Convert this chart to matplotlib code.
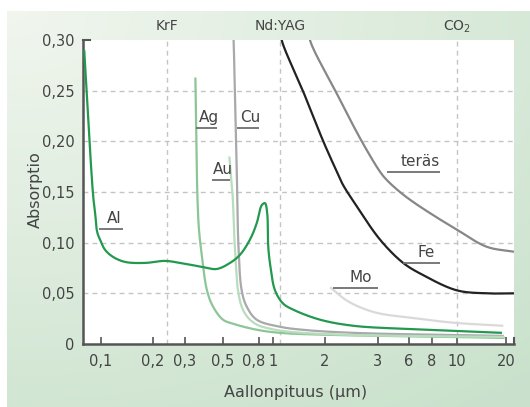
import numpy as np
import matplotlib
matplotlib.use('Agg')
import matplotlib.pyplot as plt
import matplotlib.transforms as mtransforms
from matplotlib import font_manager

# --- data (wavelength in um, absorption) ---
al_wl = [0.080, 0.090, 0.0925, 0.0949, 0.0987, 0.1055, 0.1173, 0.1377, 0.1798, 0.2329, 0.2817,
         0.3818, 0.4588, 0.548, 0.624, 0.711, 0.776, 0.836, 0.880, 0.912, 0.927, 0.961, 1.027,
         1.143, 1.305, 1.871, 2.48, 5.23, 9.65, 18.9]
al_abs = [0.290, 0.147, 0.129, 0.111, 0.103, 0.093, 0.086, 0.081, 0.080, 0.082, 0.080,
          0.076, 0.074, 0.080, 0.088, 0.103, 0.119, 0.137, 0.139, 0.129, 0.096, 0.076, 0.053,
          0.040, 0.034, 0.024, 0.018, 0.015, 0.013, 0.011]

ag_wl = [0.345, 0.350, 0.355, 0.362, 0.377, 0.403, 0.437, 0.500, 0.570, 0.780, 1.098, 2.08, 9.4, 19.6]
ag_abs = [0.263, 0.192, 0.142, 0.113, 0.086, 0.053, 0.037, 0.024, 0.020, 0.014, 0.011, 0.009, 0.007, 0.006]

au_wl = [0.543, 0.567, 0.577, 0.592, 0.608, 0.641, 0.693, 0.780, 0.960, 1.254, 2.4, 19.6]
au_abs = [0.185, 0.147, 0.113, 0.078, 0.053, 0.036, 0.026, 0.019, 0.015, 0.012, 0.009, 0.007]

cu_wl = [0.572, 0.575, 0.589, 0.600, 0.612, 0.638, 0.681, 0.776, 1.098, 1.49, 2.48, 19.4]
cu_abs = [0.310, 0.298, 0.221, 0.162, 0.096, 0.053, 0.037, 0.024, 0.017, 0.014, 0.011, 0.008]

fe_wl = [1.11, 1.123, 1.497, 1.955, 2.19, 2.296, 2.55, 3.14, 5.27, 7.16, 9.97, 15.2, 22.4]
fe_abs = [0.310, 0.300, 0.249, 0.200, 0.170, 0.157, 0.136, 0.103, 0.080, 0.068, 0.053, 0.050, 0.050]

steel_wl = [1.62, 1.637, 2.19, 2.65, 3.14, 3.64, 4.90, 6.34, 8.22, 9.97, 15.2, 22.4]
steel_abs = [0.310, 0.300, 0.247, 0.200, 0.170, 0.162, 0.150, 0.140, 0.126, 0.113, 0.096, 0.091]

mo_wl = [2.08, 2.36, 2.68, 3.14, 6.1, 9.7, 19.25]
mo_abs = [0.056, 0.043, 0.035, 0.030, 0.026, 0.021, 0.018]

laser_wl = [0.24, 1.1, 10.0]
laser_names = ['KrF', 'Nd:YAG', 'CO$_2$']

xticks = [0.1, 0.2, 0.3, 0.5, 0.8, 1, 2, 3, 6, 8, 10, 20]
xticklabels = ['0,1', '0,2', '0,3', '0,5', '0,8', '1', '2', '3', '6', '8', '10', '20']
yticks = [0, 0.05, 0.10, 0.15, 0.20, 0.25, 0.30]
yticklabels = ['0', '0,05', '0,10', '0,15', '0,20', '0,25', '0,30']

# --- irregular wavelength axis (hand drawn in the original) ---
anchor_wl = [0.07] + xticks + [25]
anchor_pos = [74.2, 101, 153, 185, 223, 259, 273, 325, 378, 409, 432, 457, 506, 521.8]
log_anchor = np.log10(anchor_wl)

def fwd(x):
    x = np.clip(np.asarray(x, dtype=float), 1e-6, None)
    return np.interp(np.log10(x), log_anchor, anchor_pos)

def inv(p):
    return 10 ** np.interp(np.asarray(p, dtype=float), anchor_pos, log_anchor)

def smooth(wl, a, n=24):
    # centripetal catmull-rom through the read points, done in axis space
    p = np.column_stack([fwd(wl), np.asarray(a, dtype=float) * 1013])
    pts = np.vstack([2 * p[0] - p[1], p, 2 * p[-1] - p[-2]])
    out = []
    for i in range(1, len(pts) - 2):
        P0, P1, P2, P3 = pts[i - 1:i + 3]
        t0 = 0.0
        t1 = t0 + np.linalg.norm(P1 - P0) ** 0.5 + 1e-9
        t2 = t1 + np.linalg.norm(P2 - P1) ** 0.5 + 1e-9
        t3 = t2 + np.linalg.norm(P3 - P2) ** 0.5 + 1e-9
        t = np.linspace(t1, t2, n, endpoint=False)[:, None]
        A1 = (t1 - t) / (t1 - t0) * P0 + (t - t0) / (t1 - t0) * P1
        A2 = (t2 - t) / (t2 - t1) * P1 + (t - t1) / (t2 - t1) * P2
        A3 = (t3 - t) / (t3 - t2) * P2 + (t - t2) / (t3 - t2) * P3
        B1 = (t2 - t) / (t2 - t0) * A1 + (t - t0) / (t2 - t0) * A2
        B2 = (t3 - t) / (t3 - t1) * A2 + (t - t1) / (t3 - t1) * A3
        out.append((t2 - t) / (t2 - t1) * B1 + (t - t1) / (t2 - t1) * B2)
    out.append(p[-1:])
    q = np.vstack(out)
    return inv(q[:, 0]), q[:, 1] / 1013

names = [f.name for f in font_manager.fontManager.ttflist]
fam = 'Liberation Sans Narrow' if 'Liberation Sans Narrow' in names else 'DejaVu Sans'
plt.rcParams['font.family'] = [fam, 'DejaVu Sans']
txt = '#444444'

W, H = 530, 407
fig = plt.figure(figsize=(W / 100, H / 100), dpi=100)

# green gradient panel
bg = fig.add_axes([7 / W, 0, 523 / W, 396 / H])
u, v = np.meshgrid(np.linspace(0, 1, 200), np.linspace(0, 1, 200))
t = np.clip(np.sqrt((u / 1.5) ** 2 + (v / 1.25) ** 2), 0, 1)
c0 = np.array([0.945, 0.965, 0.935])
c1 = np.array([0.79, 0.885, 0.80])
img = c0[None, None, :] * (1 - t[..., None]) + c1[None, None, :] * t[..., None]
bg.imshow(img, aspect='auto', extent=[0, 1, 0, 1], origin='upper')
bg.axis('off')

ax = fig.add_axes([83 / W, 1 - 344 / H, (514 - 83) / W, (344 - 40) / H])
ax.set_facecolor('white')
ax.set_xscale('function', functions=(fwd, inv))
ax.set_xlim(0.0787, 22.4)
ax.set_ylim(0, 0.30)

for y in yticks[1:-1]:
    ax.axhline(y, color='#c4c4c4', lw=1, ls=(0, (3.5, 3)), zorder=1)
for wl, name in zip(laser_wl, laser_names):
    ax.axvline(wl, color='#c4c4c4', lw=1, ls=(0, (3.5, 3)), zorder=1)
    ax.text(wl, 1.045, name, transform=ax.get_xaxis_transform(), ha='center', va='center',
            fontsize=10, color=txt)

lw = 1.6
curves = [(mo_wl, mo_abs, '#d9d9d9', 3), (steel_wl, steel_abs, '#878787', 3),
          (fe_wl, fe_abs, '#222222', 3), (cu_wl, cu_abs, '#a8a8ad', 3),
          (ag_wl, ag_abs, '#8cc697', 4), (au_wl, au_abs, '#b8ddbc', 4),
          (al_wl, al_abs, '#23994f', 5)]
for wl, a, c, z in curves:
    sx, sy = smooth(wl, a)
    ax.plot(sx, sy, color=c, lw=lw, zorder=z, solid_capstyle='butt')

# labels with underline
labels = [('Al', 0.0975, 0.1335, 0.113),
          ('Ag', 0.35, 0.46, 0.213),
          ('Au', 0.43, 0.545, 0.162),
          ('Cu', 0.60, 0.80, 0.213),
          ('teräs', 3.7, 8.6, 0.170),
          ('Fe', 5.3, 8.6, 0.080),
          ('Mo', 2.13, 3.0, 0.055)]
for name, x0, x1, y in labels:
    ax.plot([x0, x1], [y, y], color='#6e6e6e', lw=1.3, zorder=6, solid_capstyle='butt')
    xm = inv((fwd(x0) + fwd(x1)) / 2 + (fwd(x1) - fwd(x0)) * 0.12)
    ax.text(xm, y + 0.003, name, ha='center', va='bottom', fontsize=11, color=txt, zorder=6)

ax.set_xticks(xticks)
ax.set_xticklabels(xticklabels)
ax.set_xticks([], minor=True)
ax.set_yticks(yticks)
ax.set_yticklabels(yticklabels)
ax.tick_params(axis='x', direction='in', length=5, width=1.2, color='#555555',
               labelsize=10.5, labelcolor=txt, pad=7)
ax.tick_params(axis='y', length=0, labelsize=10.5, labelcolor=txt, pad=6)
# nudge "0,8" left so it clears "1", as in the original
lab08 = ax.get_xticklabels()[xticks.index(0.8)]
lab08.set_transform(lab08.get_transform() + mtransforms.ScaledTranslation(-5 / 100, 0, fig.dpi_scale_trans))
for s in ['top', 'right']:
    ax.spines[s].set_visible(False)
for s in ['left', 'bottom']:
    ax.spines[s].set_color('#555555')
    ax.spines[s].set_linewidth(1.8)
# end caps of the axes
ax.plot([0.0787, 0.086], [0.30, 0.30], color='#555555', lw=1.5, clip_on=False, zorder=7)
ax.plot([22.4, 22.4], [0, 0.006], color='#555555', lw=1.5, clip_on=False, zorder=7)

fig.text(296 / W, 1 - 392 / H, 'Aallonpituus (µm)', ha='center', va='center', fontsize=11.5, color=txt)
fig.text(35 / W, 1 - 190 / H, 'Absorptio', ha='center', va='center', rotation=90,
         fontsize=11.5, color=txt)

fig.savefig('out.png', dpi=100)
